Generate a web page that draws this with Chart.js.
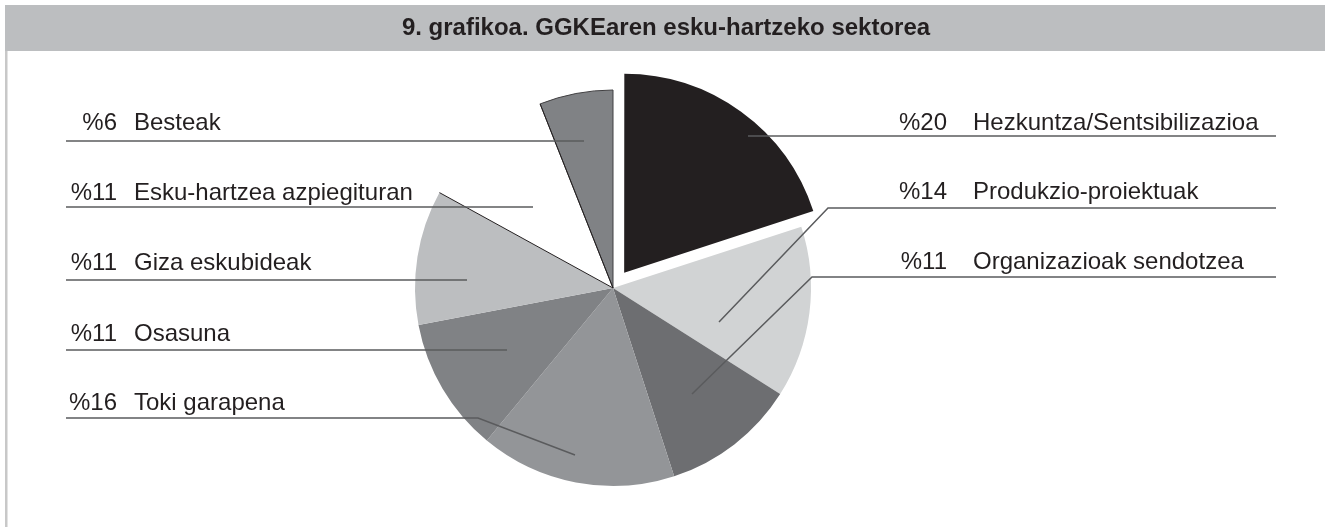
<!DOCTYPE html>
<html lang="eu">
<head>
    <meta charset="UTF-8">
    <title>9. grafikoa</title>
    <script src="https://cdn.jsdelivr.net/npm/chart.js@4.4.0/dist/chart.umd.min.js"></script>
    <style>
        html, body {
            margin: 0;
            padding: 0;
            background: #ffffff;
        }
        #wrap {
            position: relative;
            width: 1325px;
            height: 527px;
        }
    </style>
</head>
<body>
    <div id="wrap">
        <canvas id="grafikoa" width="1325" height="527"></canvas>
    </div>

    <script>
        // Datuak
        const titulua = '9. grafikoa. GGKEaren esku-hartzeko sektorea';
        const sektoreak = [
            'Hezkuntza/Sentsibilizazioa',
            'Produkzio-proiektuak',
            'Organizazioak sendotzea',
            'Toki garapena',
            'Osasuna',
            'Giza eskubideak',
            'Esku-hartzea azpiegituran',
            'Besteak'
        ];
        const ehunekoak = [20, 14, 11, 16, 11, 11, 11, 6];

        // Koloreak
        const koloreak = ['#231f20', '#d1d3d4', '#6d6e71', '#939598', '#808285', '#bcbec0', '#ffffff', '#808285'];

        // Etiketen kokapena (aldea, testuaren oinarria, marraren y, ukondoa, punta)
        const etiketak = [
            { side: 'R', textY: 130, lineY: 136, elbowX: 748, tip: null },
            { side: 'R', textY: 199, lineY: 208, elbowX: 828, tip: [719, 322] },
            { side: 'R', textY: 269, lineY: 277, elbowX: 812, tip: [692, 394] },
            { side: 'L', textY: 410, lineY: 418, elbowX: 478, tip: [575, 455] },
            { side: 'L', textY: 341, lineY: 350, elbowX: 507, tip: null },
            { side: 'L', textY: 270, lineY: 280, elbowX: 467, tip: null },
            { side: 'L', textY: 200, lineY: 207, elbowX: 533, tip: null },
            { side: 'L', textY: 130, lineY: 141, elbowX: 584, tip: null }
        ];

        // Goiburua eta markoa
        const markoPlugin = {
            id: 'marko',
            beforeDraw(chart) {
                const ctx = chart.ctx;
                ctx.save();
                ctx.fillStyle = '#bcbec0';
                ctx.fillRect(5, 5, 1320, 46);
                ctx.fillStyle = '#c8c8c8';
                ctx.fillRect(5, 51, 2.5, 476);
                ctx.fillStyle = '#231f20';
                ctx.font = 'bold 24px "Liberation Sans", Arial, sans-serif';
                ctx.textAlign = 'center';
                ctx.textBaseline = 'alphabetic';
                ctx.fillText(titulua, 666, 35);
                ctx.restore();
            }
        };

        // Etiketak eta lerroak
        const etiketaPlugin = {
            id: 'etiketak',
            afterDatasetsDraw(chart) {
                const ctx = chart.ctx;
                const meta = chart.getDatasetMeta(0);
                ctx.save();

                // sektore zuriaren ertzak
                const zuria = meta.data[6];
                ctx.strokeStyle = '#231f20';
                ctx.lineWidth = 1;
                [zuria.startAngle, zuria.endAngle].forEach(a => {
                    ctx.beginPath();
                    ctx.moveTo(zuria.x, zuria.y);
                    ctx.lineTo(zuria.x + Math.cos(a) * zuria.outerRadius, zuria.y + Math.sin(a) * zuria.outerRadius);
                    ctx.stroke();
                });

                ctx.font = '24px "Liberation Sans", Arial, sans-serif';
                ctx.textBaseline = 'alphabetic';
                ctx.strokeStyle = '#5a5b5d';
                ctx.lineWidth = 1.5;

                etiketak.forEach((e, i) => {
                    const ehunekoa = '%' + ehunekoak[i];
                    ctx.beginPath();
                    if (e.side === 'L') {
                        ctx.moveTo(66, e.lineY);
                    } else {
                        ctx.moveTo(1276, e.lineY);
                    }
                    ctx.lineTo(e.elbowX, e.lineY);
                    if (e.tip) {
                        ctx.lineTo(e.tip[0], e.tip[1]);
                    }
                    ctx.stroke();

                    ctx.fillStyle = '#231f20';
                    if (e.side === 'L') {
                        ctx.textAlign = 'right';
                        ctx.fillText(ehunekoa, 117, e.textY);
                        ctx.textAlign = 'left';
                        ctx.fillText(sektoreak[i], 134, e.textY);
                    } else {
                        ctx.textAlign = 'right';
                        ctx.fillText(ehunekoa, 947, e.textY);
                        ctx.textAlign = 'left';
                        ctx.fillText(sektoreak[i], 973, e.textY);
                    }
                });
                ctx.restore();
            }
        };

        new Chart(document.getElementById('grafikoa'), {
            type: 'pie',
            data: {
                labels: sektoreak,
                datasets: [{
                    data: ehunekoak,
                    backgroundColor: koloreak,
                    borderColor: ['#231f20', '#d1d3d4', '#6d6e71', '#939598', '#808285', '#bcbec0', '#ffffff', '#414042'],
                    borderWidth: [0, 0, 0, 0, 0, 0, 0, 1],
                    offset: [76, 0, 0, 0, 0, 0, 0, 0]
                }]
            },
            options: {
                responsive: false,
                animation: false,
                events: [],
                radius: 198,
                layout: {
                    padding: { left: 0, right: 99, top: 49, bottom: 0 }
                },
                plugins: {
                    legend: { display: false },
                    title: { display: false },
                    tooltip: { enabled: false }
                }
            },
            plugins: [markoPlugin, etiketaPlugin]
        });
    </script>
</body>
</html>
